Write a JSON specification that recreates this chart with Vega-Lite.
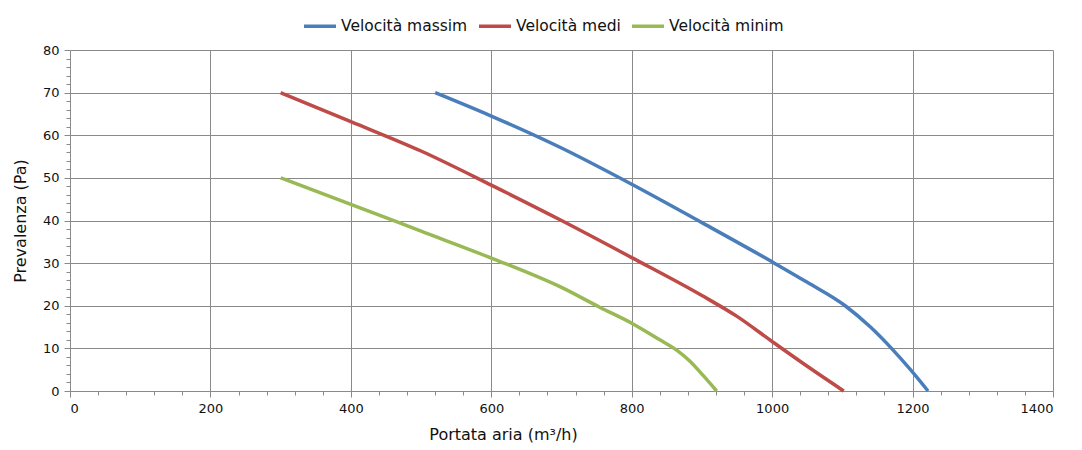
{
  "$schema": "https://vega.github.io/schema/vega-lite/v6.json",
  "width": 983,
  "height": 341,
  "autosize": {"type": "none"},
  "padding": {"left": 70, "top": 50, "right": 29, "bottom": 59},
  "background": "white",
  "config": {
    "font": "DejaVu Sans",
    "view": {"stroke": null},
    "axis": {"labelFont": "DejaVu Sans", "titleFont": "DejaVu Sans", "labelFontSize": 13, "titleFontSize": 16, "labelColor": "#111", "titleColor": "#111", "titleFontWeight": "normal", "gridColor": "#8a8a8a", "domainColor": "#8a8a8a", "tickColor": "#8a8a8a", "gridOpacity": 1}
  },
  "data": {"values": [
    {"s": "Velocità massim", "q": 520, "p": 70},
    {"s": "Velocità massim", "q": 600, "p": 64.5},
    {"s": "Velocità massim", "q": 700, "p": 57},
    {"s": "Velocità massim", "q": 800, "p": 48.5},
    {"s": "Velocità massim", "q": 900, "p": 39.5},
    {"s": "Velocità massim", "q": 1000, "p": 30.3},
    {"s": "Velocità massim", "q": 1050, "p": 25.5},
    {"s": "Velocità massim", "q": 1104, "p": 20},
    {"s": "Velocità massim", "q": 1140, "p": 15},
    {"s": "Velocità massim", "q": 1170, "p": 10},
    {"s": "Velocità massim", "q": 1197, "p": 5},
    {"s": "Velocità massim", "q": 1222, "p": 0},
    {"s": "Velocità medi", "q": 300, "p": 70},
    {"s": "Velocità medi", "q": 400, "p": 63.2},
    {"s": "Velocità medi", "q": 500, "p": 56.3},
    {"s": "Velocità medi", "q": 600, "p": 48.3},
    {"s": "Velocità medi", "q": 700, "p": 40},
    {"s": "Velocità medi", "q": 800, "p": 31.3},
    {"s": "Velocità medi", "q": 900, "p": 22.4},
    {"s": "Velocità medi", "q": 950, "p": 17.5},
    {"s": "Velocità medi", "q": 1000, "p": 11.6},
    {"s": "Velocità medi", "q": 1050, "p": 5.8},
    {"s": "Velocità medi", "q": 1102, "p": 0},
    {"s": "Velocità minim", "q": 300, "p": 50},
    {"s": "Velocità minim", "q": 400, "p": 43.8},
    {"s": "Velocità minim", "q": 500, "p": 37.5},
    {"s": "Velocità minim", "q": 600, "p": 31.2},
    {"s": "Velocità minim", "q": 700, "p": 24.3},
    {"s": "Velocità minim", "q": 755, "p": 19.6},
    {"s": "Velocità minim", "q": 800, "p": 15.9},
    {"s": "Velocità minim", "q": 840, "p": 12},
    {"s": "Velocità minim", "q": 864, "p": 9.6},
    {"s": "Velocità minim", "q": 883, "p": 7},
    {"s": "Velocità minim", "q": 902, "p": 3.6},
    {"s": "Velocità minim", "q": 921, "p": 0}
  ]},
  "resolve": {"axis": {"x": "independent", "y": "independent"}},
  "layer": [
    {
      "mark": {"type": "point", "opacity": 0},
      "encoding": {
        "x": {"field": "q", "type": "quantitative", "scale": {"domain": [0, 1400], "nice": false, "zero": false},
          "axis": {"orient": "bottom", "values": [0,40,80,120,160,240,280,320,360,440,480,520,560,640,680,720,760,840,880,920,960,1040,1080,1120,1160,1240,1280,1320,1360], "labels": false, "grid": false, "domain": false, "tickSize": 4, "title": null}},
        "y": {"field": "p", "type": "quantitative", "scale": {"domain": [0, 80], "nice": false, "zero": false},
          "axis": {"orient": "left", "values": [2,4,6,8,12,14,16,18,22,24,26,28,32,34,36,38,42,44,46,48,52,54,56,58,62,64,66,68,72,74,76,78], "labels": false, "grid": false, "domain": false, "tickSize": 4, "title": null}}
      }
    },
    {
      "mark": {"type": "line", "strokeWidth": 3.5, "interpolate": "monotone"},
      "encoding": {
        "x": {"field": "q", "type": "quantitative", "scale": {"domain": [0, 1400], "nice": false, "zero": false},
          "axis": {"orient": "bottom", "values": [0,200,400,600,800,1000,1200,1400], "format": "d", "grid": true, "tickSize": 6, "labelPadding": 5, "title": "Portata aria (m³/h)", "titleX": 433, "titlePadding": 11}},
        "y": {"field": "p", "type": "quantitative", "scale": {"domain": [0, 80], "nice": false, "zero": false},
          "axis": {"orient": "left", "values": [0,10,20,30,40,50,60,70,80], "grid": true, "tickSize": 6, "labelPadding": 5, "title": "Prevalenza (Pa)", "titlePadding": 14}},
        "color": {"field": "s", "type": "nominal",
          "scale": {"domain": ["Velocità massim", "Velocità medi", "Velocità minim"], "range": ["#4A7EBB", "#BE4B48", "#98B954"]},
          "legend": {"title": null, "orient": "none", "direction": "horizontal", "legendX": 232, "legendY": -42, "symbolType": "stroke", "symbolSize": 1024, "symbolStrokeWidth": 3.5, "labelFont": "DejaVu Sans", "labelFontSize": 15.5, "labelColor": "#111", "labelOffset": 3, "columnPadding": 4}}
      }
    }
  ]
}
